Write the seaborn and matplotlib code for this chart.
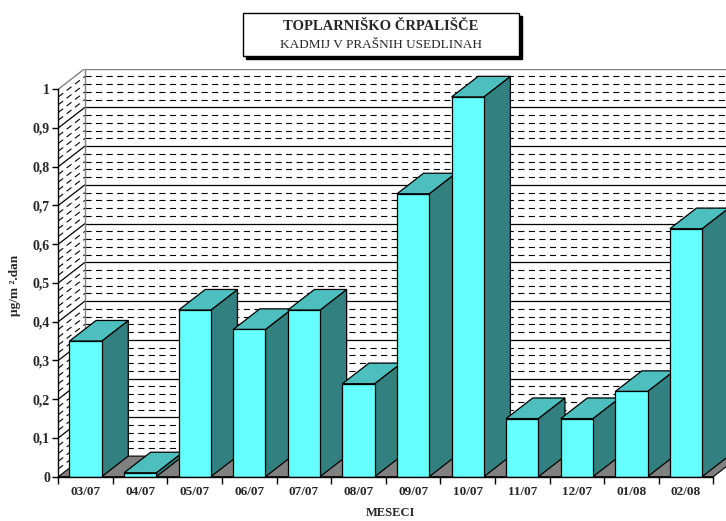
import numpy as np
import pandas as pd
import matplotlib
matplotlib.use("Agg")
import matplotlib.pyplot as plt
from matplotlib.patches import Polygon, Rectangle
import seaborn as sns

# ---- data ----
months = ["03/07", "04/07", "05/07", "06/07", "07/07", "08/07",
          "09/07", "10/07", "11/07", "12/07", "01/08", "02/08"]
values = [0.35, 0.01, 0.43, 0.38, 0.43, 0.24, 0.73, 0.98, 0.15, 0.15, 0.22, 0.64]
yticks = [0, 0.1, 0.2, 0.3, 0.4, 0.5, 0.6, 0.7, 0.8, 0.9, 1]
ytick_labels = ["0", "0,1", "0,2", "0,3", "0,4", "0,5", "0,6", "0,7", "0,8", "0,9", "1"]
title = "TOPLARNIŠKO ČRPALIŠČE"
subtitle = "KADMIJ V PRAŠNIH USEDLINAH"
ylabel = "µg/m ².dan"
xlabel = "MESECI"

sns.set_theme(style="white")
plt.rcParams["font.family"] = ["Liberation Serif", "DejaVu Serif"]

W, H = 726, 521
fig = plt.figure(figsize=(W / 100, H / 100), dpi=100)
fig.patch.set_facecolor("white")

# layout in pixels
fl, fr, y0p, y1p = 58.3, 713.3, 476.7, 89.2
dxp, dyp = 26.6, 20.6
n = len(months)
pxcat = (fr - fl) / n
pxunit = (y0p - y1p)
dx = dxp / pxcat
dy = dyp / pxunit
right_p = fr + dxp
top_p = y1p - dyp
ax = fig.add_axes([fl / W, (H - y0p) / H, (right_p - fl) / W, (y0p - top_p) / H])
ax.set_facecolor("none")

df = pd.DataFrame({"mesec": months, "vrednost": values})
sns.barplot(data=df, x="mesec", y="vrednost", color="#66FFFF", saturation=1,
            width=0.59, edgecolor="black", linewidth=0.9, ax=ax, zorder=5)

ax.set_xlim(-0.5, n - 0.5 + dx)
ax.set_ylim(0, 1 + dy)

# back wall / side wall / floor
xl, xr = -0.5, n - 0.5
ax.add_patch(Polygon([(xl, 0), (xr, 0), (xr + dx, dy), (xl + dx, dy)],
                     closed=True, facecolor="#808080", edgecolor="black",
                     linewidth=0.8, zorder=2))
for v in np.round(np.arange(0.02, 1.0001, 0.02), 2):
    major = abs(v * 10 - round(v * 10)) < 1e-6
    if abs(v - 1) < 1e-6:
        kw = dict(color="#808080", lw=1.0, ls="-")
    elif major:
        kw = dict(color="black", lw=0.9, ls="-")
    else:
        kw = dict(color="black", lw=0.8, ls=(0, (5.5, 4)))
    ax.plot([xl + dx, xr + dx], [v + dy, v + dy], zorder=1, **kw)
    ax.plot([xl, xl + dx], [v, v + dy], zorder=1, **kw)
ax.plot([xl + dx, xl + dx], [dy, 1 + dy], color="#808080", lw=1.0, zorder=1)

# 3D faces of bars
for i, p in enumerate(ax.patches[:n]):
    x0, w, h = p.get_x(), p.get_width(), p.get_height()
    base = 10 + 3 * i
    side = Polygon([(x0 + w, 0), (x0 + w + dx, dy), (x0 + w + dx, h + dy), (x0 + w, h)],
                   closed=True, facecolor="#338080", edgecolor="black", linewidth=0.9,
                   zorder=base)
    top = Polygon([(x0, h), (x0 + w, h), (x0 + w + dx, h + dy), (x0 + dx, h + dy)],
                  closed=True, facecolor="#4DBFBF", edgecolor="black", linewidth=0.9,
                  zorder=base + 1)
    ax.add_patch(side)
    ax.add_patch(top)
    p.set_zorder(base + 2)

# axes, ticks
for s in ["top", "right"]:
    ax.spines[s].set_visible(False)
ax.spines["left"].set_bounds(0, 1)
ax.spines["bottom"].set_bounds(xl, xr)
for s in ["left", "bottom"]:
    ax.spines[s].set_color("black")
    ax.spines[s].set_linewidth(1.0)
    ax.spines[s].set_zorder(50)

ax.set_yticks(yticks)
ax.set_yticklabels(ytick_labels, fontsize=10, fontweight="bold")
ax.tick_params(axis="y", direction="out", length=4, width=1, color="black", pad=2, left=True)

ax.set_xticks(np.arange(-0.5, n, 1))
ax.set_xticklabels([""] * (n + 1))
ax.set_xticks(np.arange(n), minor=True)
ax.set_xticklabels(months, minor=True, fontsize=9.5, fontweight="bold")
ax.tick_params(axis="x", which="major", direction="out", length=5, width=1, color="black", bottom=True)
ax.tick_params(axis="x", which="minor", length=0, pad=7)
ax.set_xlabel("")
ax.set_ylabel("")
ax.grid(False)

fig.text(15 / W, 1 - 285 / H, ylabel, rotation=90, ha="center", va="center",
         fontsize=9.5, fontweight="bold")
fig.text(390 / W, 1 - 513 / H, xlabel, ha="center", va="center",
         fontsize=9, fontweight="bold")

# title box with shadow
bx0, bx1, by0, by1 = 243, 519, 13, 56
fig.patches.append(Rectangle(((bx0 + 3) / W, 1 - (by1 + 3) / H), (bx1 - bx0) / W,
                             (by1 - by0) / H, transform=fig.transFigure,
                             facecolor="black", edgecolor="black", zorder=0))
fig.patches.append(Rectangle((bx0 / W, 1 - by1 / H), (bx1 - bx0) / W, (by1 - by0) / H,
                             transform=fig.transFigure, facecolor="white",
                             edgecolor="black", linewidth=1, zorder=1))
cx = (bx0 + bx1) / 2
fig.text(cx / W, 1 - 27 / H, title, ha="center", va="center", fontsize=10.5,
         fontweight="bold", zorder=3)
fig.text(cx / W, 1 - 45 / H, subtitle, ha="center", va="center", fontsize=9.5, zorder=3)

fig.savefig("out.png", dpi=100)
